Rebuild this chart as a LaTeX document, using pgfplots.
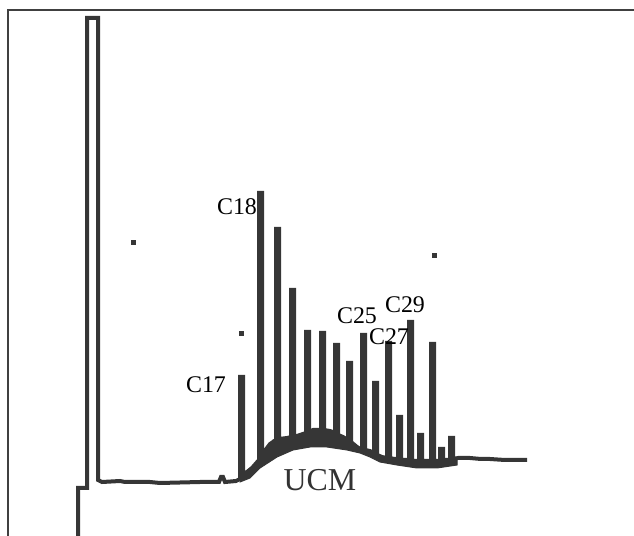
\documentclass[border=0pt]{standalone}
\usepackage{pgfplots}
\pgfplotsset{compat=1.18}
\usepackage{fontspec}
\setmainfont{Liberation Serif}
\definecolor{trace}{HTML}{363636}

% retention (px-like units) vs. detector response
\pgfplotstableread{
x y
78 0
78 48
87 48
87 518
98 518
98 56
102 54
120 55
125 54
150 54
160 53
200 54
219 54
221 59
223 59
225 54
236 55
240 57
240 159
243 159
243 60
247 64
252 68
259 76
259 343
262 343
262 80
267 88
270 92
276 96
276 307
279 307
279 97
287 98
291 99
291 246
294 246
294 99
300 101
306 103
306 204
309 204
309 104
313 106
321 106
321 203
324 203
324 106
330 105
335 103
335 191
338 191
338 101
343 99
348 96
348 173
351 173
351 94
357 89
362 86
362 201
365 201
365 86
370 85
374 83
374 153
377 153
377 81
382 79
387 78
387 193
390 193
390 78
394 77
398 77
398 119
401 119
401 76
405 76
409 76
409 214
412 214
412 75
416 75
419 75
419 101
422 101
422 75
426 75
431 75
431 192
434 192
434 75
437 75
440 75
440 87
443 87
443 75
446 76
450 76
450 98
453 98
453 77
458 78
470 78
481 77
490 77
505 76
527 76
}\tracetab

% unresolved complex mixture band: upper edge then lower edge
\pgfplotstableread{
x y
240 57
243 58
250 66
257 74
265 85
273 96
293 99
310 106
327 106
340 100
347 98
360 86
370 85
380 79
403 76
437 74
457 77
457 71
437 68
417 68
397 71
380 74
370 79
360 83
347 86
327 89
310 89
293 86
277 79
260 68
250 58
240 54
}\ucmtab

\begin{document}
\begin{tikzpicture}
\begin{axis}[
    scale only axis,
    width=634bp, height=536bp,
    xmin=0, xmax=634, ymin=0, ymax=536,
    hide axis,
]
% frame (top and left)
\addplot[black!75, line width=1.2bp] coordinates {(8,0) (8,526) (634,526)};

\addplot[fill=trace, draw=trace, line width=1bp] table {\ucmtab} -- cycle;
\addplot[trace, line width=4bp, line join=miter] table {\tracetab};

% stray dots
\addplot[only marks, mark=square*, mark size=1.8bp, trace]
    coordinates {(133,294) (241,203) (434,281)};

\node[font=\fontsize{24}{24}\selectfont] at (axis cs:206,151) {C17};
\node[font=\fontsize{24}{24}\selectfont] at (axis cs:237,329) {C18};
\node[font=\fontsize{24}{24}\selectfont] at (axis cs:357,220) {C25};
\node[font=\fontsize{24}{24}\selectfont] at (axis cs:405,231) {C29};
\node[font=\fontsize{24}{24}\selectfont] at (axis cs:389,199) {C27};
\node[font=\fontsize{32}{32}\selectfont, text=black!80] at (axis cs:320,56) {UCM};

\path (rel axis cs:0,0) rectangle (rel axis cs:1,1);
\end{axis}
\end{tikzpicture}
\end{document}
